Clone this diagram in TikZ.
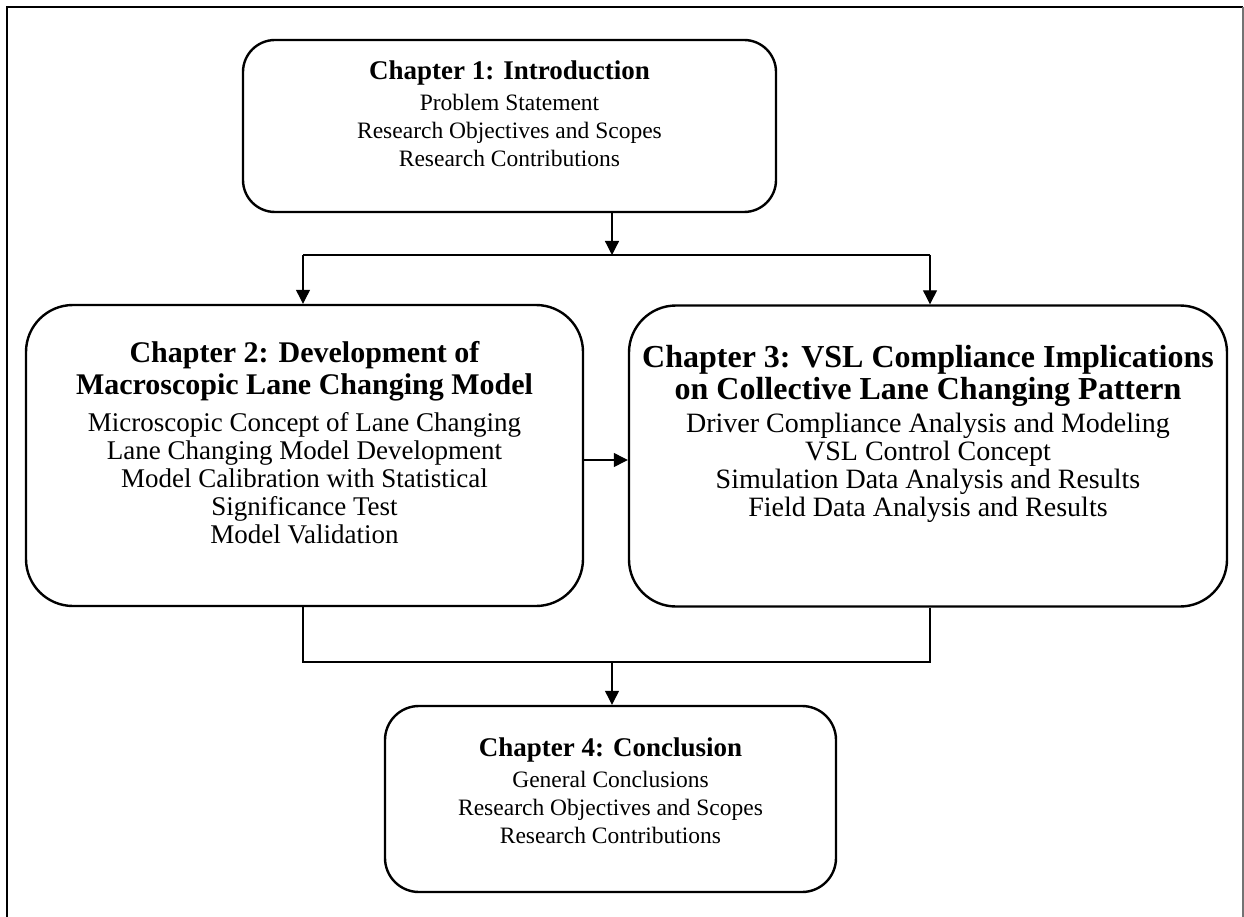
\documentclass[tikz,border=0pt]{standalone}
\usepackage{fontspec}
\setmainfont{Liberation Serif}
\usetikzlibrary{arrows.meta}
\begin{document}
\begin{tikzpicture}[x=1pt,y=-1pt,
  chbox/.style={draw=black, line width=2.4pt, inner sep=0pt},
  chtext/.style={align=center, inner sep=0pt, font=\fontsize{23.5}{28}\selectfont},
  conn/.style={line width=1.2pt},
  arr/.style={conn, -{Triangle[length=14pt,width=14pt]}}]
\useasboundingbox (0,0) rectangle (1244,917);
% frame
\draw[line width=2pt] (7,917) -- (7,7) -- (1243,7);
\draw[line width=1.2pt, black!55] (1243,7) -- (1243,917);
% boxes
\node[chbox, rounded corners=32pt, minimum width=533pt, minimum height=172pt] (c1) at (509.5,126) {};
\node[chbox, rounded corners=47pt, minimum width=557pt, minimum height=301pt] (c2) at (304.5,455.5) {};
\node[chbox, rounded corners=47pt, minimum width=598pt, minimum height=301pt] (c3) at (928,456) {};
\node[chbox, rounded corners=34pt, minimum width=451pt, minimum height=186pt] (c4) at (610.5,799) {};
% texts
\node[chtext] (t1) at (509.5,114) {{\fontsize{27}{32}\selectfont\bfseries Chapter 1: Introduction}\\[3pt]
Problem Statement\\ Research Objectives and Scopes\\ Research Contributions};
\node[chtext, font=\fontsize{27}{28}\selectfont] (t2) at (304.5,443) {{\fontsize{30}{32}\selectfont\bfseries Chapter 2: Development of}\\[4pt]
{\fontsize{30}{32}\selectfont\bfseries Macroscopic Lane Changing Model}\\[9pt]
Microscopic Concept of Lane Changing\\ Lane Changing Model Development\\ Model Calibration with Statistical\\ Significance Test\\ Model Validation};
\node[chtext, font=\fontsize{28}{28}\selectfont] (t3) at (928,434) {{\fontsize{32}{32}\selectfont\bfseries Chapter 3: VSL Compliance Implications}\\[2pt]
{\fontsize{32}{32}\selectfont\bfseries on Collective Lane Changing Pattern}\\[5pt]
Driver Compliance Analysis and Modeling\\ VSL Control Concept\\ Simulation Data Analysis and Results\\ Field Data Analysis and Results};
\node[chtext] (t4) at (610.5,791) {{\fontsize{27}{32}\selectfont\bfseries Chapter 4: Conclusion}\\[3pt]
General Conclusions\\ Research Objectives and Scopes\\ Research Contributions};
% connectors
\coordinate (s1) at (612,255);
\coordinate (sl) at (303,255);
\coordinate (sr) at (930,255);
\coordinate (m1) at (612,662);
\coordinate (ml) at (303,662);
\coordinate (mr) at (930,662);
\draw[arr] (c1.south -| s1) -- (s1);
\draw[conn] (sl) -- (sr);
\draw[arr] (sl) -- (sl |- c2.north);
\draw[arr] (sr) -- (sr |- c3.north);
\draw[arr] (c2.east |- 0,460) -- (c3.west |- 0,460);
\draw[conn] (ml |- c2.south) -- (ml) -- (mr) -- (mr |- c3.south);
\draw[arr] (m1) -- (m1 |- c4.north);
\end{tikzpicture}
\end{document}
